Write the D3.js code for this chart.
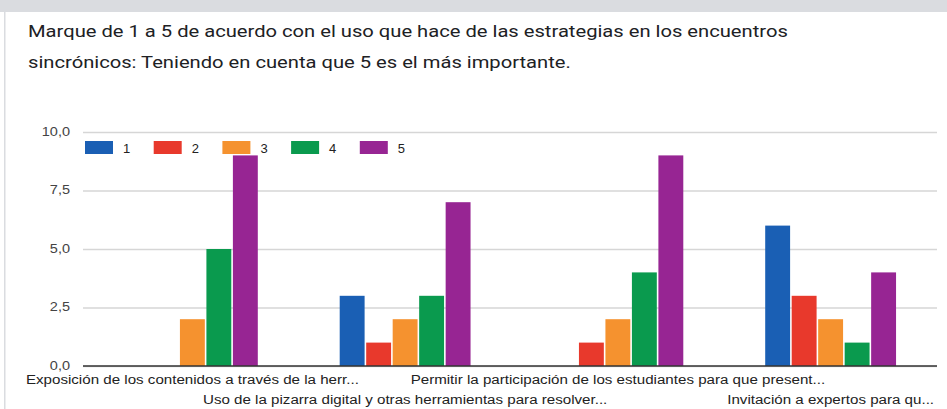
<!DOCTYPE html>
<html>
<head>
<meta charset="utf-8">
<script src="https://cdn.jsdelivr.net/npm/d3@7"></script>
<style>
  body { margin: 0; background: #fff; }
  svg { display: block; }
</style>
</head>
<body>
<div id="container"></div>
<script>
/* DATA */
const title = [
  "Marque de 1 a 5 de acuerdo con el uso que hace de las estrategias en los encuentros",
  "sincrónicos: Teniendo en cuenta que 5 es el más importante."
];
const categories = [
  "Exposición de los contenidos a través de la herr...",
  "Uso de la pizarra digital y otras herramientas para resolver...",
  "Permitir la participación de los estudiantes para que present...",
  "Invitación a expertos para qu..."
];
const seriesNames = ["1", "2", "3", "4", "5"];
const s1 = [0, 3, 0, 6];
const s2 = [0, 1, 1, 3];
const s3 = [2, 2, 2, 2];
const s4 = [5, 3, 4, 1];
const s5 = [9, 7, 9, 4];
const yTicks = [0, 2.5, 5, 7.5, 10];
const colors = ["#1a5fb4", "#e8392c", "#f5922f", "#0a9a4e", "#972593"];

/* CONSTANTS */
const width = 947, height = 409;
const margin = { top: 132, bottom: 43, left: 86, right: 10 };
const chartFont = "'Liberation Sans', Arial, sans-serif";

// the screenshot is a bit wider than tall, so text is stretched sideways
const stretch = (sel, k) => sel.each(function () {
  const w = this.getComputedTextLength();
  d3.select(this).attr("textLength", w * k).attr("lengthAdjust", "spacingAndGlyphs");
});

const series = [s1, s2, s3, s4, s5];
const data = categories.map((c, i) => ({
  cat: c,
  values: seriesNames.map((s, j) => ({ key: s, value: series[j][i] }))
}));

const svg = d3.select("#container")
  .append("svg")
  .attr("width", width)
  .attr("height", height);

// card frame
svg.append("rect").attr("x", 0).attr("y", 0).attr("width", width).attr("height", 12).attr("fill", "#dadce0");
svg.append("rect").attr("x", 4).attr("y", 12).attr("width", 1.5).attr("height", height - 12).attr("fill", "#dadce0");

// title
svg.selectAll(".title")
  .data(title)
  .join("text")
  .attr("class", "title")
  .attr("x", 28)
  .attr("y", (d, i) => 37 + i * 31)
  .attr("font-family", "Roboto, Arial, sans-serif")
  .attr("font-size", 16)
  .attr("fill", "#202124")
  .text(d => d)
  .call(stretch, 1.26);

// SCALES
const x0 = d3.scaleBand()
  .domain(categories)
  .range([margin.left, width - margin.right])
  .paddingInner(0.385)
  .paddingOuter(0.1925);

const x1 = d3.scaleBand()
  .domain(seriesNames)
  .range([0, x0.bandwidth()])
  .paddingInner(0.06);

const y = d3.scaleLinear()
  .domain([0, 10])
  .range([height - margin.bottom, margin.top]);

const color = d3.scaleOrdinal().domain(seriesNames).range(colors);
const fmt = v => d3.format(".1f")(v).replace(".", ",");

// GRID + Y AXIS
const yAxis = d3.axisLeft(y)
  .tickValues(yTicks)
  .tickSize(-(width - margin.right - margin.left + 3))
  .tickFormat(fmt);

const gy = svg.append("g")
  .attr("transform", `translate(${margin.left - 3},0)`)
  .call(yAxis);
gy.select(".domain").remove();
gy.selectAll(".tick line").attr("stroke", "#d6d6d6").attr("stroke-width", 1.5);
gy.selectAll(".tick text")
  .attr("x", -13)
  .attr("dy", "0.25em")
  .attr("font-family", chartFont)
  .attr("font-size", 12.5)
  .attr("fill", "#444")
  .call(stretch, 1.16);

// BARS
const groups = svg.selectAll(".group")
  .data(data)
  .join("g")
  .attr("class", "group")
  .attr("transform", d => `translate(${x0(d.cat)},0)`);

groups.selectAll("rect")
  .data(d => d.values)
  .join("rect")
  .attr("x", d => x1(d.key))
  .attr("y", d => y(d.value))
  .attr("width", x1.bandwidth())
  .attr("height", d => y(0) - y(d.value))
  .attr("fill", d => color(d.key));

// baseline
svg.append("line")
  .attr("x1", margin.left - 3)
  .attr("x2", width - margin.right)
  .attr("y1", y(0))
  .attr("y2", y(0))
  .attr("stroke", "#333")
  .attr("stroke-width", 1.5);

// X AXIS LABELS (staggered)
const xAxis = d3.axisBottom(x0).tickSize(0);
const gx = svg.append("g")
  .attr("transform", `translate(0,${y(0)})`)
  .call(xAxis);
gx.select(".domain").remove();
gx.selectAll(".tick text")
  .attr("y", (d, i) => i % 2 === 0 ? 18 : 38)
  .attr("dy", 0)
  .attr("font-family", chartFont)
  .attr("font-size", 12.5)
  .attr("fill", "#222")
  .call(stretch, 1.21);

// LEGEND
const legend = svg.selectAll(".legend")
  .data(seriesNames)
  .join("g")
  .attr("class", "legend")
  .attr("transform", (d, i) => `translate(${85 + i * 68.7},141)`);

legend.append("rect")
  .attr("width", 28)
  .attr("height", 13)
  .attr("fill", d => color(d));

legend.append("text")
  .attr("x", 38)
  .attr("y", 11.5)
  .attr("font-family", chartFont)
  .attr("font-size", 13)
  .attr("fill", "#222")
  .text(d => d);
</script>
</body>
</html>
